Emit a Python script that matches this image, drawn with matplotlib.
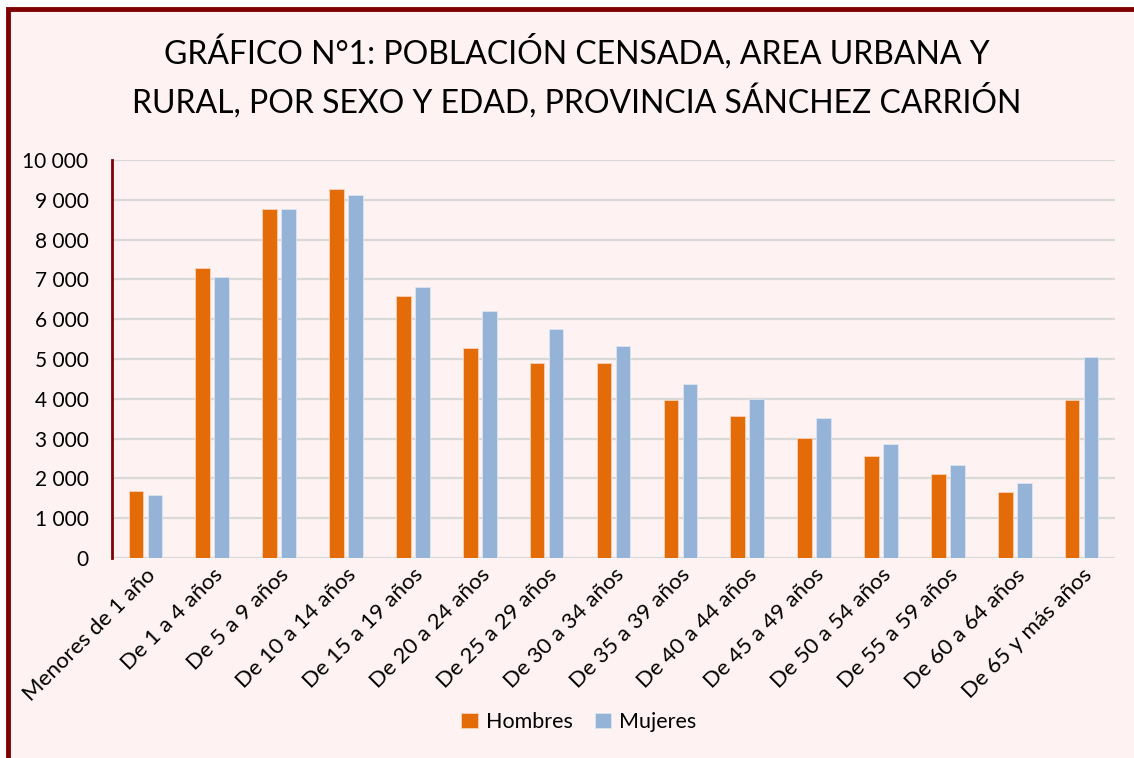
import numpy as np
import matplotlib
matplotlib.use("Agg")
import matplotlib.pyplot as plt
from matplotlib.patches import Rectangle

plt.rcParams['font.family'] = ['Lato', 'DejaVu Sans']

categorias = ["Menores de 1 año", "De 1 a 4 años", "De 5 a 9 años", "De 10 a 14 años",
              "De 15 a 19 años", "De 20 a 24 años", "De 25 a 29 años", "De 30 a 34 años",
              "De 35 a 39 años", "De 40 a 44 años", "De 45 a 49 años", "De 50 a 54 años",
              "De 55 a 59 años", "De 60 a 64 años", "De 65 y más años"]
hombres = [1690, 7280, 8780, 9275, 6580, 5280, 4905, 4905, 3965, 3560, 3005, 2560, 2115, 1665, 3960]
mujeres = [1580, 7065, 8760, 9110, 6810, 6205, 5755, 5320, 4360, 4005, 3520, 2870, 2335, 1890, 5050]
yticks = [0, 1000, 2000, 3000, 4000, 5000, 6000, 7000, 8000, 9000, 10000]
ytick_labels = ["0", "1 000", "2 000", "3 000", "4 000", "5 000", "6 000", "7 000", "8 000", "9 000", "10 000"]
titulo = "GRÁFICO N°1: POBLACIÓN CENSADA, AREA URBANA Y\nRURAL, POR SEXO Y EDAD, PROVINCIA SÁNCHEZ CARRIÓN"

BG = "#FFF2F2"
ORANGE = "#E36C09"
BLUE = "#95B3D7"
MAROON = "#7F0000"

fig = plt.figure(figsize=(11.34, 7.58), dpi=100)
fig.patch.set_facecolor("white")

# marco del gráfico (cortado a la derecha y abajo)
W, H = 1134, 758
fig.patches.append(Rectangle((7.5 / W, -0.05), 1.2, (H - 9.5) / H + 0.05,
                             transform=fig.transFigure, facecolor=BG,
                             edgecolor=MAROON, linewidth=3.5, zorder=-5))

ax = fig.add_axes([112 / W, 1 - 558 / H, (1115 - 112) / W, (558 - 160) / H])
ax.set_zorder(2)
ax.patch.set_alpha(0)

x = np.arange(len(categorias))
w = 0.22
off = 0.142
ax.bar(x - off, hombres, w, color=ORANGE, edgecolor="#F9D3B8", linewidth=0.6, label="Hombres", zorder=3)
ax.bar(x + off, mujeres, w, color=BLUE, edgecolor="#DCE6F2", linewidth=0.6, label="Mujeres", zorder=3)

ax.set_xlim(-0.5, len(categorias) - 0.5)
ax.set_ylim(0, 10000)
ax.set_yticks(yticks)
ax.set_yticklabels(ytick_labels, fontsize=15)
ax.yaxis.grid(True, color="#D9D9D9", linewidth=1.6, zorder=0)
ax.set_axisbelow(True)
ax.tick_params(axis="y", length=0, pad=17)
ax.tick_params(axis="x", length=0, pad=5)
ax.set_xticks(x)
ax.set_xticklabels(categorias, rotation=45, ha="right", rotation_mode="anchor", fontsize=16)

for s in ["top", "right", "bottom"]:
    ax.spines[s].set_visible(False)
ax.spines["left"].set_color(MAROON)
ax.spines["left"].set_linewidth(2)
ax.spines["left"].set_zorder(4)

fig.text(577 / W, 1 - 76 / H, titulo, ha="center", va="center", fontsize=23, linespacing=1.45)

leg = fig.legend(loc="center", bbox_to_anchor=(579 / W, 1 - 722 / H), ncol=2, frameon=False,
                 fontsize=15.5, handlelength=0.75, handleheight=0.75, handletextpad=0.4,
                 columnspacing=1.0)

fig.savefig("out.png", dpi=100, facecolor=fig.get_facecolor())
